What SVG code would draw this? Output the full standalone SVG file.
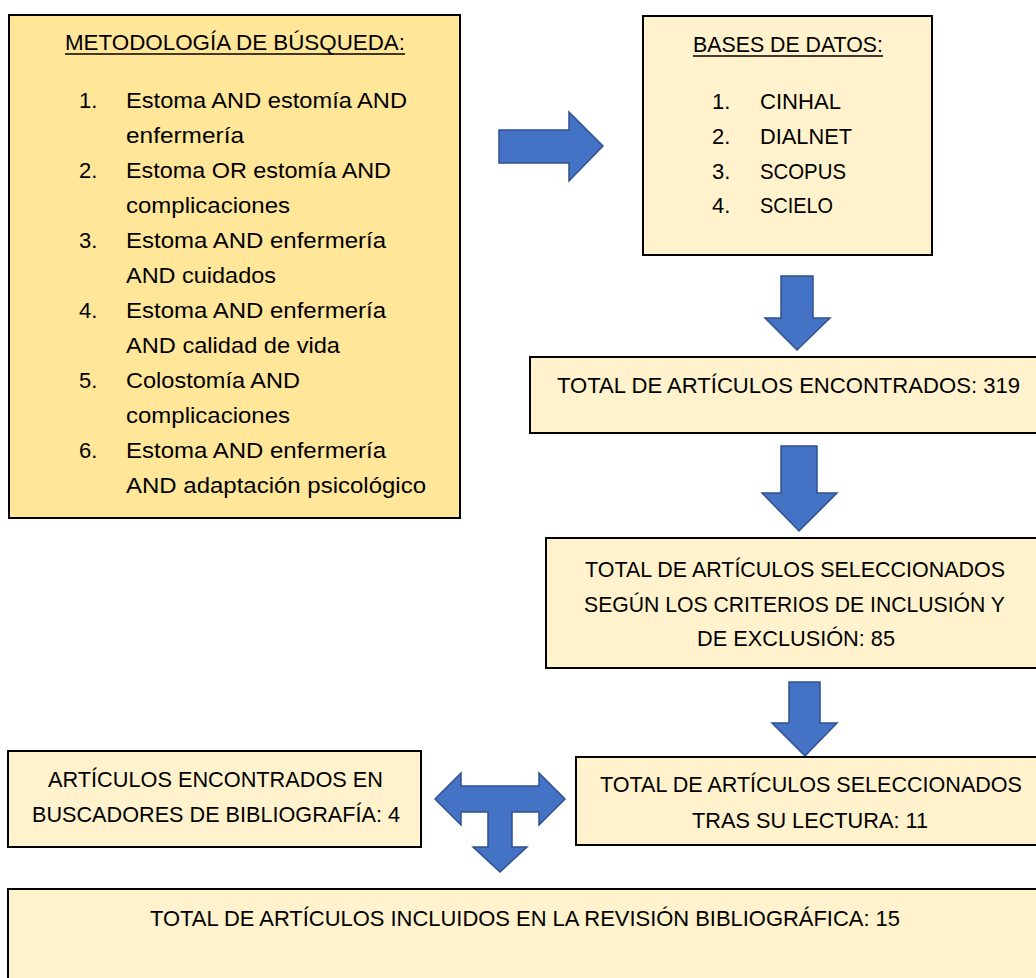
<svg xmlns="http://www.w3.org/2000/svg" width="1036" height="978" viewBox="0 0 1036 978">
<style>
.box{stroke:#000;stroke-width:2}
.gold{fill:#FFE699}
.light{fill:#FFF2CC}
.t{font-family:"Liberation Sans",Arial,sans-serif;font-size:22px;fill:#000}
.c{text-anchor:middle}
.arr{fill:#4472C4;stroke:#2F528F;stroke-width:1.5;stroke-linejoin:miter}
.ul{stroke:#000;stroke-width:1.5}
</style>
<rect width="1036" height="978" fill="#fff"/>
<g id="connectors">
<polygon class="arr" points="499,130 569,130 569,112 603,146 569,181 569,163 499,163"/>
<polygon class="arr" points="781,276 813,276 813,318 830,318 797,350 765,318 781,318"/>
<polygon class="arr" points="781,446 817,446 817,493 837,493 799,531 762,493 781,493"/>
<polygon class="arr" points="789,682 820,682 820,723 837,723 805,756 772,723 789,723"/>
<polygon class="arr" points="435,799 461,773 461,786 539,786 539,773 565,799 539,825 539,812 512,812 512,847 527,847 500,872 473,847 488,847 488,812 461,812 461,825"/>
</g>
<g id="metodologia">
<rect class="box gold" x="9" y="15" width="451" height="503"/>
<text class="t" x="65" y="50" textLength="340" lengthAdjust="spacingAndGlyphs">METODOLOGÍA DE BÚSQUEDA:</text>
<line class="ul" x1="65" y1="54" x2="405" y2="54"/>
<text class="t" x="79" y="108">1.</text>
<text class="t" x="126" y="108" textLength="281" lengthAdjust="spacingAndGlyphs">Estoma AND estomía AND</text>
<text class="t" x="126" y="143" textLength="118" lengthAdjust="spacingAndGlyphs">enfermería</text>
<text class="t" x="79" y="178">2.</text>
<text class="t" x="126" y="178" textLength="265" lengthAdjust="spacingAndGlyphs">Estoma OR estomía AND</text>
<text class="t" x="126" y="213" textLength="164" lengthAdjust="spacingAndGlyphs">complicaciones</text>
<text class="t" x="79" y="248">3.</text>
<text class="t" x="126" y="248" textLength="260" lengthAdjust="spacingAndGlyphs">Estoma AND enfermería</text>
<text class="t" x="126" y="283" textLength="150" lengthAdjust="spacingAndGlyphs">AND cuidados</text>
<text class="t" x="79" y="318">4.</text>
<text class="t" x="126" y="318" textLength="260" lengthAdjust="spacingAndGlyphs">Estoma AND enfermería</text>
<text class="t" x="126" y="353" textLength="214" lengthAdjust="spacingAndGlyphs">AND calidad de vida</text>
<text class="t" x="79" y="388">5.</text>
<text class="t" x="126" y="388" textLength="174" lengthAdjust="spacingAndGlyphs">Colostomía AND</text>
<text class="t" x="126" y="423" textLength="164" lengthAdjust="spacingAndGlyphs">complicaciones</text>
<text class="t" x="79" y="458">6.</text>
<text class="t" x="126" y="458" textLength="260" lengthAdjust="spacingAndGlyphs">Estoma AND enfermería</text>
<text class="t" x="126" y="493" textLength="300" lengthAdjust="spacingAndGlyphs">AND adaptación psicológico</text>
</g>
<g id="bases">
<rect class="box light" x="643" y="16" width="289" height="239"/>
<text class="t" x="693" y="52" textLength="190" lengthAdjust="spacingAndGlyphs">BASES DE DATOS:</text>
<line class="ul" x1="693" y1="56" x2="883" y2="56"/>
<text class="t" x="712" y="109">1.</text>
<text class="t" x="760" y="109" textLength="81" lengthAdjust="spacingAndGlyphs">CINHAL</text>
<text class="t" x="712" y="144">2.</text>
<text class="t" x="760" y="144" textLength="92" lengthAdjust="spacingAndGlyphs">DIALNET</text>
<text class="t" x="712" y="179">3.</text>
<text class="t" x="760" y="179" textLength="86" lengthAdjust="spacingAndGlyphs">SCOPUS</text>
<text class="t" x="712" y="213">4.</text>
<text class="t" x="760" y="213" textLength="73" lengthAdjust="spacingAndGlyphs">SCIELO</text>
</g>
<g id="encontrados">
<rect class="box light" x="530" y="357" width="520" height="76"/>
<text class="t" x="557" y="393" textLength="463" lengthAdjust="spacingAndGlyphs">TOTAL DE ARTÍCULOS ENCONTRADOS: 319</text>
</g>
<g id="seleccionados-criterios">
<rect class="box light" x="546" y="538" width="504" height="130"/>
<text class="t" x="585" y="577" textLength="420" lengthAdjust="spacingAndGlyphs">TOTAL DE ARTÍCULOS SELECCIONADOS</text>
<text class="t" x="584" y="612" textLength="421" lengthAdjust="spacingAndGlyphs">SEGÚN LOS CRITERIOS DE INCLUSIÓN Y</text>
<text class="t" x="697" y="646" textLength="198" lengthAdjust="spacingAndGlyphs">DE EXCLUSIÓN: 85</text>
</g>
<g id="buscadores">
<rect class="box light" x="8" y="751" width="413" height="96"/>
<text class="t" x="48" y="787" textLength="335" lengthAdjust="spacingAndGlyphs">ARTÍCULOS ENCONTRADOS EN</text>
<text class="t" x="32" y="822" textLength="368" lengthAdjust="spacingAndGlyphs">BUSCADORES DE BIBLIOGRAFÍA: 4</text>
</g>
<g id="seleccionados-lectura">
<rect class="box light" x="576" y="757" width="474" height="88"/>
<text class="t" x="600" y="792" textLength="422" lengthAdjust="spacingAndGlyphs">TOTAL DE ARTÍCULOS SELECCIONADOS</text>
<text class="t" x="692" y="828" textLength="236" lengthAdjust="spacingAndGlyphs">TRAS SU LECTURA: 11</text>
</g>
<g id="incluidos">
<rect class="box light" x="8" y="889" width="1042" height="100"/>
<text class="t" x="150" y="926" textLength="750" lengthAdjust="spacingAndGlyphs">TOTAL DE ARTÍCULOS INCLUIDOS EN LA REVISIÓN BIBLIOGRÁFICA: 15</text>
</g>
</svg>
